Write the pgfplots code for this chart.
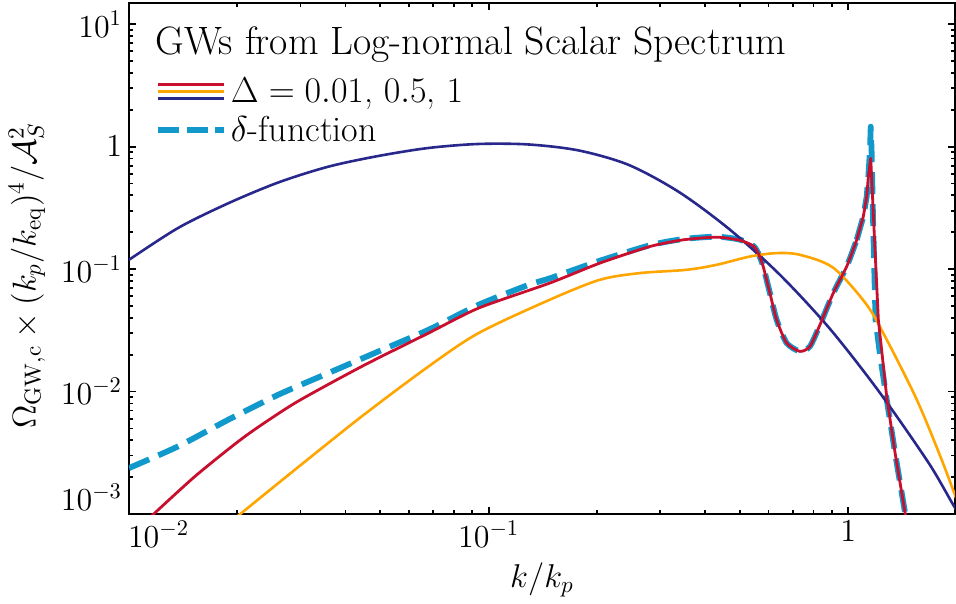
\RequirePackage{fix-cm}
\documentclass[border=0pt]{standalone}
\usepackage{pgfplots}
\pgfplotsset{compat=1.18}
\usetikzlibrary{calc}
\definecolor{cred}{RGB}{200,16,46}
\definecolor{corange}{RGB}{255,165,0}
\definecolor{cnavy}{RGB}{40,40,140}
\definecolor{cdash}{RGB}{17,153,204}
\begin{document}
\begin{tikzpicture}
\begin{axis}[
  xmode=log, ymode=log,
  scale only axis, width=413pt, height=255.5pt,
  xmin=0.01, xmax=1.98, ymin=1e-3, ymax=14.9,
  axis line style={line width=1.2pt},
  tick align=inside,
  major tick length=3.5pt, minor tick length=2pt,
  tick style={black, line width=0.9pt},
  xtick={0.01,0.1,1}, xticklabels={,$10^{-1}$,$1$},
  extra x ticks={0.01}, extra x tick labels={$10^{-2}$},
  extra x tick style={xticklabel style={anchor=north west, xshift=-4pt}},
  ytick={1e-3,1e-2,1e-1,1,10}, yticklabels={,$10^{-2}$,$10^{-1}$,$1$,$10^{1}$},
  extra y ticks={1e-3}, extra y tick labels={$10^{-3}$},
  extra y tick style={yticklabel style={yshift=8.5pt}},
  tick label style={font=\fontsize{16}{19}\selectfont},
  label style={font=\fontsize{16.5}{19}\selectfont},
  xlabel={$k/k_p$},
  xlabel style={at={(rel axis cs:0.5,0)}, anchor=center, yshift=-33pt},
  ylabel={$\Omega_{\mathrm{GW,c}}\times(k_p/k_{\mathrm{eq}})^4/\mathcal{A}_S^2$},
  ylabel style={at={(rel axis cs:-0.1235,0.466)}, anchor=center},
  legend style={draw=none, fill=none, at={(rel axis cs:0,1)}, anchor=north west,
    xshift=10pt, yshift=-33pt, font=\fontsize{18}{21}\selectfont, row sep=1.5pt},
  legend cell align=left,
]
\coordinate (BL) at (rel axis cs:0,0);
\coordinate (TR) at (rel axis cs:1,1);
\addlegendimage{legend image code/.code={
  \draw[cred, line width=1.3pt] (0pt,3.5pt) -- (33pt,3.5pt);
  \draw[corange, line width=1.3pt] (0pt,0pt) -- (33pt,0pt);
  \draw[cnavy, line width=1.3pt] (0pt,-3.5pt) -- (33pt,-3.5pt);}}
\addlegendentry{$\Delta=0.01$, $0.5$, $1$}
\addlegendimage{legend image code/.code={
  \draw[cdash, line width=2.8pt, dash pattern=on 10.5pt off 3.75pt] (0pt,0pt) -- (33pt,0pt);}}
\addlegendentry{$\delta$-function}

% delta-function
\addplot[cdash, line width=2.9pt, dash pattern=on 11pt off 5pt, smooth, tension=0.4, forget plot] coordinates {
(0.0100,0.002373) (0.01371,0.003573) (0.01890,0.005899) (0.02603,0.009434)
(0.03587,0.01418) (0.04940,0.02128) (0.06808,0.03198) (0.09380,0.05114)
(0.1292,0.07443) (0.1478,0.0840) (0.2037,0.1170) (0.2806,0.1565)
(0.3474,0.1760) (0.4302,0.1840) (0.4995,0.1740) (0.5440,0.1549)
(0.5617,0.1351) (0.5799,0.1050) (0.6054,0.06371) (0.6319,0.0386)
(0.6738,0.02490) (0.7339,0.02128) (0.7823,0.02337) (0.8341,0.03513)
(0.9082,0.06371) (0.9897,0.1050) (1.0553,0.1734)
};
\addplot[cdash, line width=2.9pt, dash pattern=on 11pt off 5pt, line join=round, forget plot] coordinates {
(1.0553,0.1734) (1.1007,0.2685) (1.125,0.3910) (1.1368,0.5692) (1.149,0.94) (1.1543,1.457)
(1.1605,0.94) (1.1717,0.2524) (1.1905,0.0386) (1.2249,0.0200)
(1.279,0.00859) (1.349,0.003156) (1.438,0.001023) (1.457,0.000821)
};
% Delta = 1
\addplot[cnavy, line width=1.3pt, smooth, forget plot] coordinates {
(0.0100,0.1191) (0.01371,0.2172) (0.01890,0.3453) (0.02603,0.5105)
(0.03587,0.6870) (0.04940,0.8397) (0.06808,0.9759) (0.09380,1.052)
(0.1292,1.042) (0.1780,0.9311) (0.2452,0.7092) (0.3378,0.4271)
(0.4656,0.2132) (0.6413,0.09155) (0.8838,0.03320) (1.2175,0.009982)
(1.677,0.002582) (1.9939,0.001088) (2.326,0.000564)
};
% Delta = 0.5
\addplot[corange, line width=1.3pt, smooth, forget plot] coordinates {
(0.01951,0.000902) (0.02058,0.001023) (0.02897,0.002307) (0.04440,0.006277)
(0.06808,0.01605) (0.09380,0.03006) (0.1478,0.05618)
(0.2037,0.08177) (0.2632,0.09278) (0.3549,0.09869) (0.4302,0.1084)
(0.5327,0.1267) (0.6319,0.1351) (0.7339,0.1308) (0.9082,0.1025)
(1.125,0.05114) (1.279,0.0265) (1.5501,0.00859) (1.799,0.00300)
(1.9939,0.00135) (2.138,0.00075)
};
% Delta = 0.01
\addplot[cred, line width=1.4pt, smooth, tension=0.4, forget plot] coordinates {
(0.01112,0.000868) (0.01527,0.002034) (0.02103,0.004311) (0.02897,0.008072)
(0.04440,0.01605) (0.06808,0.03006) (0.09380,0.04807) (0.1478,0.07687)
(0.2037,0.1119) (0.2806,0.1529) (0.3474,0.1734) (0.4302,0.1824)
(0.4995,0.1720) (0.5440,0.1549) (0.5617,0.1351) (0.5799,0.1050)
(0.6054,0.06371) (0.6319,0.0386) (0.6738,0.02490) (0.7339,0.02128)
(0.7823,0.02337) (0.8341,0.03513) (0.9082,0.06371) (0.9897,0.1050)
(1.0553,0.1734)
};
\addplot[cred, line width=1.4pt, line join=round, forget plot] coordinates {
(1.0553,0.1734) (1.1007,0.2685) (1.125,0.3910) (1.1368,0.5692)
(1.1543,0.8043) (1.1828,0.1734) (1.2120,0.0386) (1.279,0.0090)
(1.349,0.003156) (1.438,0.001023) (1.457,0.000821)
};
\node[anchor=base west, inner sep=0pt, font=\fontsize{19.8}{23}\selectfont,
  xshift=13pt, yshift=-25.7pt] at (rel axis cs:0,1) {GWs from Log-normal Scalar Spectrum};
\end{axis}
\pgfresetboundingbox
\path ($(BL)+(-64.5pt,-44.5pt)$) rectangle ($(TR)+(0.5pt,1.5pt)$);
\end{tikzpicture}
\end{document}
